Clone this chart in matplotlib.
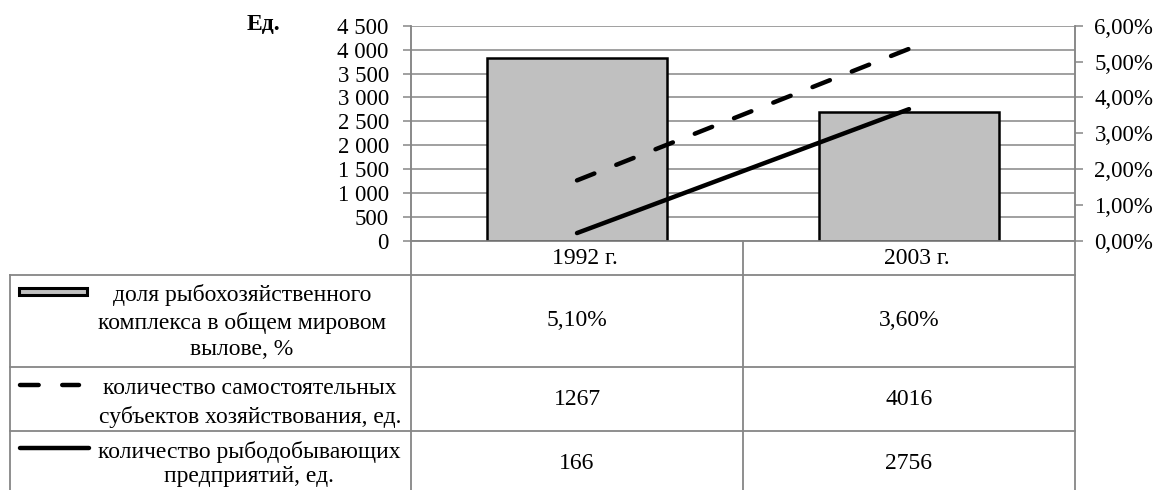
import matplotlib
matplotlib.use("Agg")
import matplotlib.pyplot as plt
from matplotlib.lines import Line2D
from matplotlib.patches import Rectangle

# ---- data ----
categories = ['1992 г.', '2003 г.']
share_pct = [5.10, 3.60]          # доля рыбохозяйственного комплекса, %
entities = [1267, 4016]           # количество самостоятельных субъектов
enterprises = [166, 2756]         # количество рыбодобывающих предприятий
series_labels = [
    'доля рыбохозяйственного\nкомплекса в общем мировом\nвылове, %',
    'количество самостоятельных\nсубъектов хозяйствования, ед.',
    'количество рыбодобывающих\nпредприятий, ед.',
]
left_ticks = [0, 500, 1000, 1500, 2000, 2500, 3000, 3500, 4000, 4500]
right_ticks = [0, 1, 2, 3, 4, 5, 6]
unit_label = 'Ед.'

# ---- style ----
W, H = 1161, 490
FONT = 'Liberation Serif'
FS = 17
TFS = 16.5
GRID = '#868686'
BAR_FC = '#C0C0C0'
LW = 3.2
DASH = (4.2, 5.3)
plt.rcParams['font.family'] = [FONT, 'DejaVu Serif']

fig = plt.figure(figsize=(W / 100, H / 100), dpi=100)

def fx(x):
    return x / W

def fy(y):
    return 1 - y / H

L, R, T, B = 411, 1075, 25.7, 241
ax = fig.add_axes([fx(L), fy(B), fx(R - L), (B - T) / H])
ax2 = ax.twinx()

x = list(range(len(categories)))
ax.set_xlim(-0.5, len(categories) - 0.5)
ax.set_ylim(0, 4500)
ax2.set_ylim(0, 6)

ax.set_yticks(left_ticks)
ax.set_yticklabels([f"{v:,.0f}".replace(',', ' ') for v in left_ticks])
ax.yaxis.grid(True, color=GRID, lw=1.1)
ax.set_axisbelow(True)
ax.set_xticks([])
ax2.set_xticks([])
ax2.set_yticks(right_ticks)
ax2.set_yticklabels([f"{v:.2f}%".replace('.', ',') for v in right_ticks])

for a in (ax, ax2):
    for s in a.spines.values():
        s.set_color(GRID)
        s.set_linewidth(1.1)
    a.spines['top'].set_visible(False)
    a.tick_params(axis='y', colors=GRID, length=6, width=1.1, labelsize=TFS,
                  labelcolor='black')
ax.tick_params(axis='y', pad=10)
ax2.tick_params(axis='y', pad=8)

# bars on secondary axis
bars = ax2.bar(x, share_pct, width=0.54, color=BAR_FC, edgecolor='black',
               linewidth=1.8, zorder=2)

# lines on primary axis scale, drawn on top of bars
ax2.plot(x, entities, transform=ax.transData, color='black', lw=LW,
         dashes=DASH, dash_capstyle='round', zorder=3)
ax2.plot(x, enterprises, transform=ax.transData, color='black',
         lw=LW, solid_capstyle='round', zorder=3)

# ---- unit label ----
fig.text(fx(263), fy(25), unit_label, ha='center', va='center',
         fontsize=FS, fontweight='bold')

# ---- data table ----
tl = dict(color=GRID, lw=1.3, transform=fig.transFigure)
col_x = [L + (R - L) * (i + 0.5) / len(categories) for i in range(len(categories))]
for yy in [275, 367, 431]:
    fig.add_artist(Line2D([fx(10), fx(R)], [fy(yy), fy(yy)], **tl))
fig.add_artist(Line2D([fx(10), fx(10)], [fy(275), fy(492)], **tl))
for xx in [L, (L + R) / 2, R]:
    fig.add_artist(Line2D([fx(xx), fx(xx)], [fy(241), fy(492)], **tl))

for cx, cat in zip(col_x, categories):
    fig.text(fx(cx + 8), fy(258.5), cat, ha='center', va='center', fontsize=FS)

row_centers = [322, 403, 464]
label_cx = [242, 250, 249]
line_sp = [1.32, 1.38, 1.24]
for lab, cy, lx, ls in zip(series_labels, row_centers, label_cx, line_sp):
    fig.text(fx(lx), fy(cy), lab, ha='center', va='center', fontsize=FS,
             linespacing=ls, multialignment='center')

fig.add_artist(Rectangle((fx(19), fy(294.5)), fx(68), (294.5 - 288) / H,
                         facecolor=bars[0].get_facecolor(), edgecolor='black',
                         lw=2.2, transform=fig.transFigure))
fig.add_artist(Line2D([fx(20), fx(79)], [fy(385), fy(385)], color='black',
                      lw=LW, dashes=DASH, dash_capstyle='round',
                      transform=fig.transFigure))
fig.add_artist(Line2D([fx(20), fx(89)], [fy(448), fy(448)], color='black',
                      lw=LW, solid_capstyle='round', transform=fig.transFigure))

value_rows = [
    [f"{v:.2f}%".replace('.', ',') for v in share_pct],
    [str(v) for v in entities],
    [str(v) for v in enterprises],
]
value_y = [321, 399, 463]
for vals, vy in zip(value_rows, value_y):
    for cx, v in zip(col_x, vals):
        fig.text(fx(cx), fy(vy), v, ha='center', va='center', fontsize=FS)

fig.savefig('out.png', dpi=100)
